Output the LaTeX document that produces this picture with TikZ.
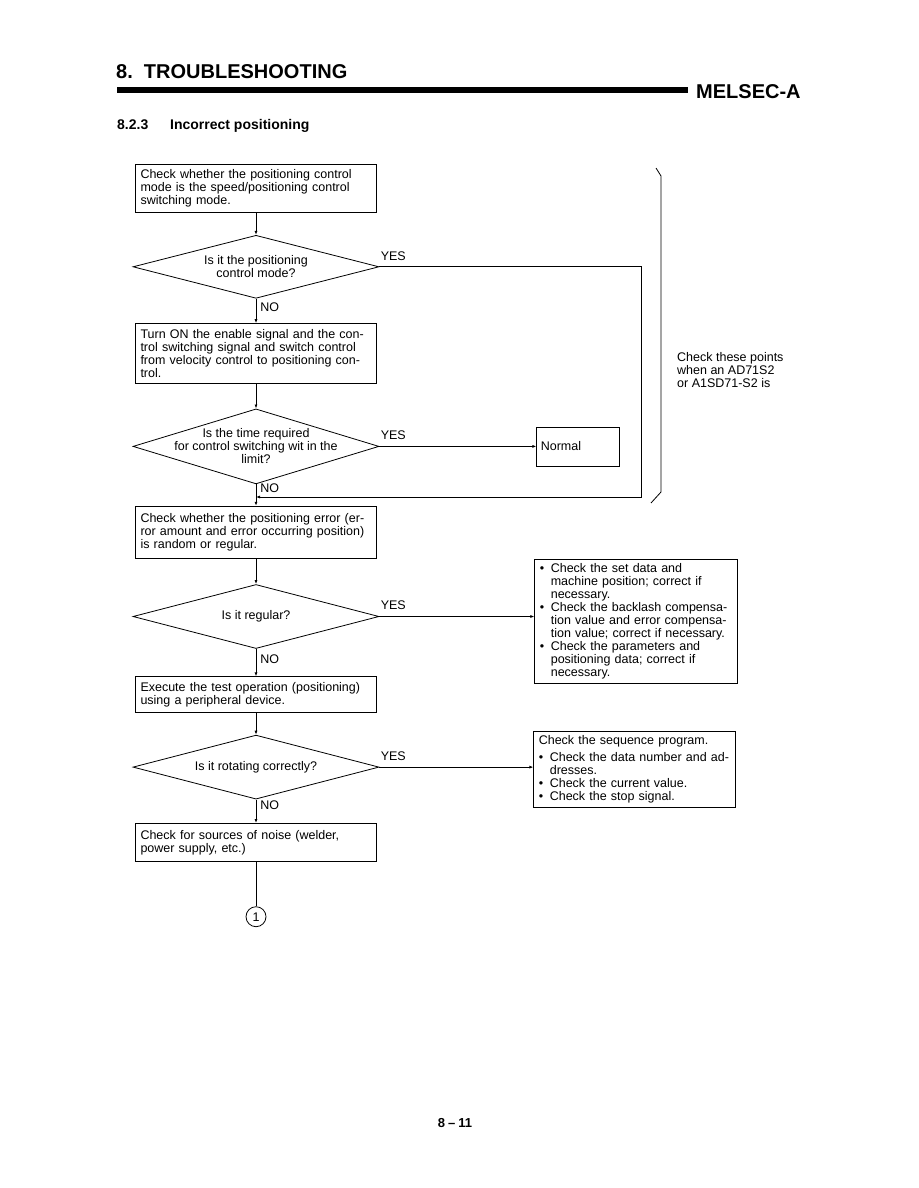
\documentclass[tikz,border=0pt]{standalone}
\usepackage{fontspec}
\setmainfont{Liberation Sans}
\usetikzlibrary{positioning, shapes.geometric, arrows.meta}

\begin{document}
\begin{tikzpicture}[
    x=1pt, y=-1pt,
    every node/.style={font=\fontsize{12.5}{13}\selectfont},
    box/.style={rectangle, draw, thick, text width=231pt, inner xsep=5pt, inner ysep=4pt, align=left},
    decision/.style={diamond, draw, thick, minimum width=246pt, inner sep=0pt},
    yeslbl/.style={anchor=south west, yshift=5pt, inner sep=1pt},
    nolbl/.style={anchor=west, xshift=3pt, inner sep=1pt},
    arrow/.style={-{Latex[length=4pt, width=3pt]}, thick}
]
\useasboundingbox (0,0) rectangle (918,1188);

% Heading
\node (title) [anchor=base west, inner sep=0pt, font=\fontsize{20}{24}\selectfont\bfseries] at (116,79) {8.\ \ TROUBLESHOOTING};
\draw [line width=6pt] (117,90) -- (688,90);
\node (series) [anchor=base west, inner sep=0pt, font=\fontsize{20}{24}\selectfont\bfseries] at (696,99) {MELSEC-A};
\node (secnum) [anchor=base west, inner sep=0pt, font=\fontsize{14}{16}\selectfont\bfseries] at (117,130) {8.2.3};
\node (sectitle) [anchor=base west, inner sep=0pt, font=\fontsize{14}{16}\selectfont\bfseries] at (170,130) {Incorrect positioning};

% Main flow
\node (chkmode) [box, minimum height=48pt] at (256,188) {Check whether the positioning control\\mode is the speed/positioning control\\switching mode.};
\node (posmode) [decision, minimum height=63pt, below=22.5pt of chkmode, label={[align=center]center:Is it the positioning\\control mode?}] {};
\node (ctlsw) [box, minimum height=60pt, below=24.5pt of posmode] {Turn ON the enable signal and the con-\\trol switching signal and switch control\\from velocity control to positioning con-\\trol.};
\node (swtime) [decision, minimum height=75pt, below=24.5pt of ctlsw, label={[align=center]center:Is the time required\\for control switching wit in the\\limit?}] {};
\node (poserr) [box, minimum height=52pt, below=21.5pt of swtime] {Check whether the positioning error (er-\\ror amount and error occurring position)\\is random or regular.};
\node (regular) [decision, minimum height=64pt, below=25.5pt of poserr, label={center:Is it regular?}] {};
\node (testop) [box, minimum height=36pt, below=27.5pt of regular] {Execute the test operation (positioning)\\using a peripheral device.};
\node (rotating) [decision, minimum height=64pt, below=21.5pt of testop, label={center:Is it rotating correctly?}] {};
\node (noise) [box, minimum height=38pt, below=23.5pt of rotating] {Check for sources of noise (welder,\\power supply, etc.)};
\node (cont1) [circle, draw, thick, minimum size=20pt, inner sep=0pt, below=44.5pt of noise] {1};

% Results
\node (normal) [box, text width=75pt, inner xsep=4pt, minimum height=39pt, right=157pt of swtime] {Normal};
\node (setdata) [box, text width=193pt, minimum height=124pt, right=155pt of regular, yshift=-5pt] {%
\makebox[11pt][l]{\textbullet}Check the set data and\\
\hspace*{11pt}machine position; correct if\\
\hspace*{11pt}necessary.\\
\makebox[11pt][l]{\textbullet}Check the backlash compensa-\\
\hspace*{11pt}tion value and error compensa-\\
\hspace*{11pt}tion value; correct if necessary.\\
\makebox[11pt][l]{\textbullet}Check the parameters and\\
\hspace*{11pt}positioning data; correct if\\
\hspace*{11pt}necessary.};
\node (seqprog) [box, text width=192pt, minimum height=75pt, right=154pt of rotating, yshift=-2pt] {%
Check the sequence program.\\[4pt]
\makebox[11pt][l]{\textbullet}Check the data number and ad-\\
\hspace*{11pt}dresses.\\
\makebox[11pt][l]{\textbullet}Check the current value.\\
\makebox[11pt][l]{\textbullet}Check the stop signal.};

% Side note
\draw [thick] (656,168) -- (661,176) -- (661,492) -- (651,503);
\node (note) [anchor=north west, align=left, inner sep=0pt] at (677,352.5) {Check these points\\when an AD71S2\\or A1SD71-S2 is};

% Page number
\node (pageno) [font=\fontsize{13}{15}\selectfont\bfseries] at (455,1123) {8\hspace{3pt}--\hspace{3pt}11};

% Arrows
\coordinate (loopc) at (641,497);
\draw [arrow] (chkmode) -- (posmode);
\draw [arrow] (posmode.south) -- node[nolbl, pos=0.36] (no1) {NO} (ctlsw.north);
\draw [arrow] (posmode.east) node[yeslbl] (yes1) {YES} -| (loopc) -- (swtime.south |- loopc);
\draw [arrow] (ctlsw) -- (swtime);
\draw [arrow] (swtime.east) node[yeslbl] (yes2) {YES} -- (normal.west);
\draw [arrow] (swtime.south) -- node[nolbl, pos=0.2] (no2) {NO} (poserr.north);
\draw [arrow] (poserr) -- (regular);
\draw [arrow] (regular.east) node[yeslbl] (yes3) {YES} -- (regular.east -| setdata.west);
\draw [arrow] (regular.south) -- node[nolbl, pos=0.36] (no3) {NO} (testop.north);
\draw [arrow] (testop) -- (rotating);
\draw [arrow] (rotating.east) node[yeslbl] (yes4) {YES} -- (rotating.east -| seqprog.west);
\draw [arrow] (rotating.south) -- node[nolbl, pos=0.25] (no4) {NO} (noise.north);
\draw [thick] (noise) -- (cont1);

\end{tikzpicture}
\end{document}
